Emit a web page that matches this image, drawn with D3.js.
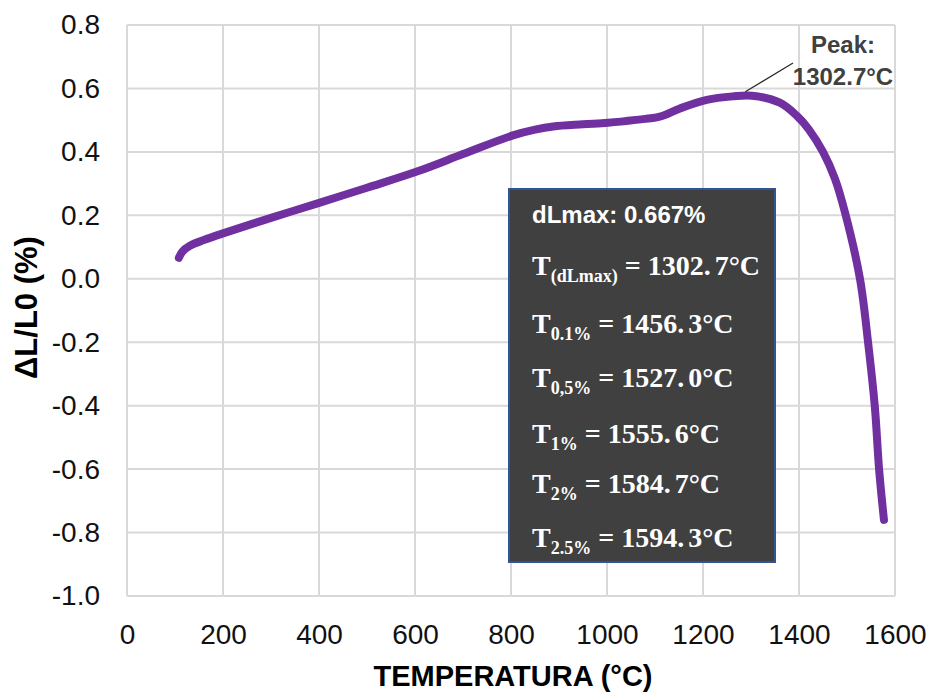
<!DOCTYPE html>
<html>
<head>
<meta charset="utf-8">
<script src="https://cdn.jsdelivr.net/npm/d3@7"></script>
<style>
  html, body { margin: 0; padding: 0; background: #fff; }
  svg { display: block; }
</style>
</head>
<body>
<svg id="chart" width="932" height="697"></svg>
<script>
// Dilatometry curve: relative length change vs. temperature
const temperature = [108, 115, 131, 160, 200, 300, 402, 500, 604, 700, 804, 850, 888, 950, 1002, 1060, 1110, 1152, 1208, 1262, 1302.7, 1360, 1396, 1420, 1450, 1475, 1496, 1527, 1544, 1558, 1567, 1577];
const dLL0 = [0.066, 0.085, 0.104, 0.122, 0.143, 0.192, 0.24, 0.287, 0.338, 0.393, 0.452, 0.47, 0.48, 0.487, 0.492, 0.501, 0.511, 0.537, 0.564, 0.575, 0.577, 0.555, 0.513, 0.472, 0.40, 0.315, 0.208, 0.0, -0.202, -0.404, -0.603, -0.76];

const xTicks = [0, 200, 400, 600, 800, 1000, 1200, 1400, 1600];
const yTicks = [0.8, 0.6, 0.4, 0.2, 0.0, -0.2, -0.4, -0.6, -0.8, -1.0];

const peakT = 1302.7;
const peakLabel = ["Peak:", "1302.7°C"];
const boxHeader = "dLmax: 0.667%";
const boxRows = [
  { sub: "(dLmax)", int: "1302.", dec: "7°C" },
  { sub: "0.1%",    int: "1456.", dec: "3°C" },
  { sub: "0,5%",    int: "1527.", dec: "0°C" },
  { sub: "1%",      int: "1555.", dec: "6°C" },
  { sub: "2%",      int: "1584.", dec: "7°C" },
  { sub: "2.5%",    int: "1594.", dec: "3°C" }
];

const svg = d3.select("#chart");
const plot = { left: 127, right: 895, top: 25, bottom: 596 };

const x = d3.scaleLinear().domain([0, 1600]).range([plot.left, plot.right]);
const y = d3.scaleLinear().domain([-1.0, 0.8]).range([plot.bottom, plot.top]);

const fmtY = v => d3.format(".1f")(v).replace("\u2212", "-");

// grid
const grid = svg.append("g").attr("stroke", "#d9d9d9").attr("stroke-width", 2);
grid.selectAll("line.v").data(xTicks).join("line")
  .attr("x1", d => x(d)).attr("x2", d => x(d))
  .attr("y1", plot.top).attr("y2", plot.bottom);
grid.selectAll("line.h").data(yTicks).join("line")
  .attr("x1", plot.left).attr("x2", plot.right)
  .attr("y1", d => y(d)).attr("y2", d => y(d));

// axes (labels only; rules come from the grid)
const xAxis = svg.append("g")
  .attr("transform", `translate(0,${plot.bottom})`)
  .call(d3.axisBottom(x).tickValues(xTicks).tickSize(0).tickPadding(28).tickFormat(d3.format("d")));
xAxis.select(".domain").remove();
xAxis.selectAll("text").attr("font-family", "Liberation Sans, Arial, sans-serif")
  .attr("font-size", 28).attr("fill", "#111");

const yAxis = svg.append("g")
  .attr("transform", `translate(${plot.left},0)`)
  .call(d3.axisLeft(y).tickValues(yTicks).tickSize(0).tickPadding(27).tickFormat(fmtY));
yAxis.select(".domain").remove();
yAxis.selectAll("text").attr("font-family", "Liberation Sans, Arial, sans-serif")
  .attr("font-size", 28).attr("fill", "#111");

// axis titles
svg.append("text")
  .attr("x", (plot.left + plot.right) / 2 + 2).attr("y", 686)
  .attr("text-anchor", "middle")
  .attr("font-family", "Liberation Sans, Arial, sans-serif")
  .attr("font-weight", "bold").attr("font-size", 29).attr("fill", "#000")
  .text("TEMPERATURA (°C)");

svg.append("text")
  .attr("transform", `translate(37,${(plot.top + plot.bottom) / 2 - 3}) rotate(-90)`)
  .attr("text-anchor", "middle")
  .attr("font-family", "Liberation Sans, Arial, sans-serif")
  .attr("font-weight", "bold").attr("font-size", 31).attr("fill", "#000")
  .text("ΔL/L0 (%)");

// curve
const pts = temperature.map((t, i) => [t, dLL0[i]]);
const line = d3.line().x(d => x(d[0])).y(d => y(d[1])).curve(d3.curveCatmullRom.alpha(0.5));
svg.append("path")
  .datum(pts)
  .attr("d", line)
  .attr("fill", "none")
  .attr("stroke", "#7030a0")
  .attr("stroke-width", 8)
  .attr("stroke-linecap", "round")
  .attr("stroke-linejoin", "round");

// peak annotation
const peakV = dLL0[temperature.indexOf(peakT)];
svg.append("line")
  .attr("x1", x(peakT) - 7).attr("y1", y(peakV) - 4)
  .attr("x2", 793).attr("y2", 63)
  .attr("stroke", "#262626").attr("stroke-width", 1.2);
svg.append("g").selectAll("text").data(peakLabel).join("text")
  .attr("x", 843).attr("y", (d, i) => 53 + i * 32)
  .attr("text-anchor", "middle")
  .attr("font-family", "Liberation Sans, Arial, sans-serif")
  .attr("font-weight", "bold").attr("font-size", 24).attr("fill", "#404040")
  .text(d => d);

// summary box
const box = svg.append("g");
box.append("rect")
  .attr("x", 509).attr("y", 189).attr("width", 266).attr("height", 373)
  .attr("fill", "#404040").attr("stroke", "#2f5597").attr("stroke-width", 2);
box.append("text")
  .attr("x", 532).attr("y", 223)
  .attr("font-family", "Liberation Sans, Arial, sans-serif")
  .attr("font-weight", "bold").attr("font-size", 24).attr("fill", "#fff")
  .text(boxHeader);

const rowBase = [275, 333, 387, 443, 493, 547];
boxRows.forEach((r, i) => {
  const t = box.append("text")
    .attr("x", 532).attr("y", rowBase[i])
    .attr("font-family", "Liberation Serif, DejaVu Serif, serif")
    .attr("font-weight", "bold").attr("font-size", 28).attr("fill", "#fff");
  t.append("tspan").text("T");
  t.append("tspan").attr("dy", 7).attr("font-size", 18).text(r.sub);
  t.append("tspan").attr("dy", -7).attr("dx", 7).text("= " + r.int);
  t.append("tspan").attr("dx", 4).text(r.dec);
});
</script>
</body>
</html>
